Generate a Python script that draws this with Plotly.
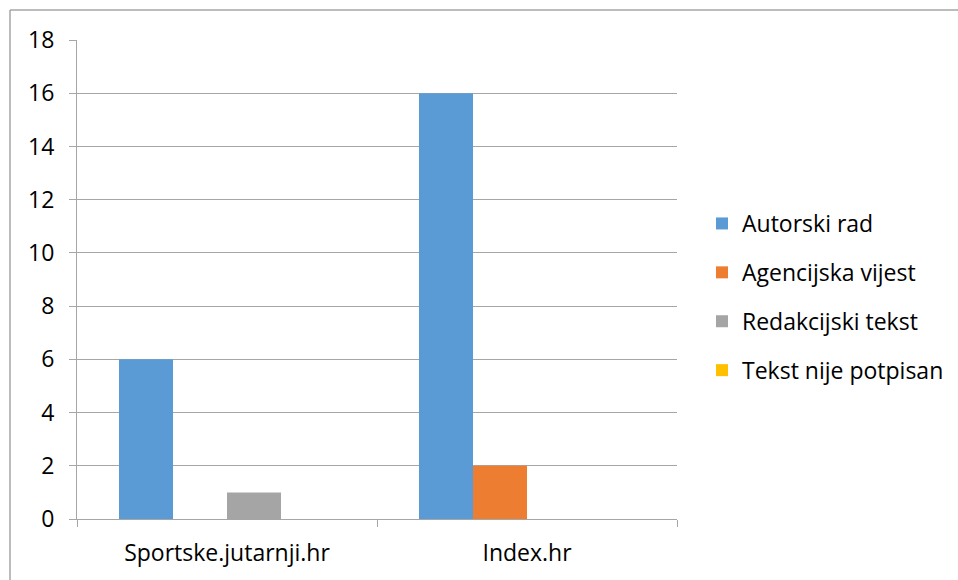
import plotly.graph_objects as go

categories = ["Sportske.jutarnji.hr", "Index.hr"]
series_names = ["Autorski rad", "Agencijska vijest", "Redakcijski tekst", "Tekst nije potpisan"]
autorski = [6, 16]
agencijska = [0, 2]
redakcijski = [1, 0]
nepotpisan = [0, 0]
y_ticks = [0, 2, 4, 6, 8, 10, 12, 14, 16, 18]

colors = ["#5B9BD5", "#ED7D31", "#A5A5A5", "#FFC000"]
values = [autorski, agencijska, redakcijski, nepotpisan]

FONT = "Open Sans, sans-serif"
FS = 23
fig = go.Figure()
for i, (name, vals) in enumerate(zip(series_names, values)):
    fig.add_trace(go.Bar(
        x=categories, y=vals, name=name,
        marker=dict(color=colors[i], line=dict(width=0)),
        legendgroup=name,
    ))

W, H = 958, 580
L, R, T, B = 77, 281, 40, 61
pw, ph = W - L - R, H - T - B

def px(x):
    return (x - L) / pw

def py(y):
    return (H - B - y) / ph

fig.update_layout(
    width=W, height=H,
    margin=dict(l=L, r=R, t=T, b=B, autoexpand=False),
    paper_bgcolor="white", plot_bgcolor="white",
    barmode="group", bargap=0.28, bargroupgap=0,
    font=dict(family=FONT, size=FS, color="#000000"),
    showlegend=True,
    legend=dict(
        x=px(702), xanchor="left", y=py(297), yanchor="middle",
        font=dict(family=FONT, size=FS, color="#000000"),
        traceorder="grouped", tracegroupgap=16,
        bgcolor="rgba(0,0,0,0)",
    ),
    xaxis=dict(
        type="category", tickson="boundaries",
        ticks="outside", ticklen=7, tickcolor="#a6a6a6", tickwidth=1,
        showline=True, linecolor="#a6a6a6", linewidth=1,
        showgrid=False, tickfont=dict(family=FONT, size=FS, color="#000000"),
        ticklabelstandoff=13, automargin=False,
    ),
    yaxis=dict(
        range=[0, 18], tickvals=y_ticks,
        ticks="outside", ticklen=7, tickcolor="#a6a6a6", tickwidth=1,
        showline=True, linecolor="#a6a6a6", linewidth=1,
        showgrid=True, gridcolor="#a6a6a6", gridwidth=1,
        zeroline=False, tickfont=dict(family=FONT, size=FS, color="#000000"),
        ticklabelstandoff=10, automargin=False,
    ),
    shapes=[
        dict(type="line", xref="paper", yref="paper",
             x0=px(10), x1=px(970), y0=py(10), y1=py(10),
             line=dict(color="#a6a6a6", width=1.5)),
        dict(type="line", xref="paper", yref="paper",
             x0=px(10), x1=px(10), y0=py(10), y1=py(590),
             line=dict(color="#a6a6a6", width=1.5)),
    ],
)

fig.write_html("out.html", config={"displayModeBar": False},
               post_script="document.body.style.margin='0';document.body.style.padding='0';document.body.style.overflow='hidden';")
